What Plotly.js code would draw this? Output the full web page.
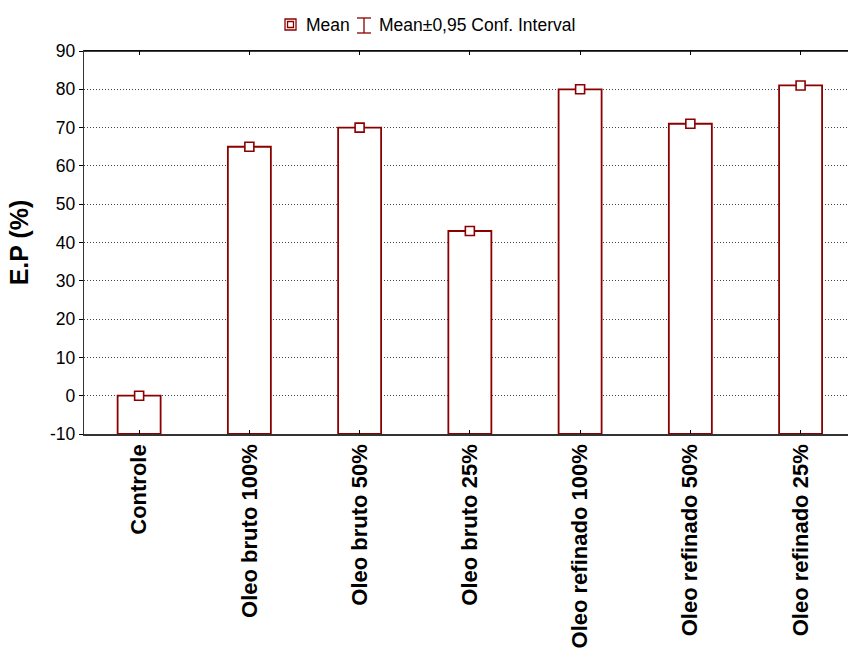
<!DOCTYPE html>
<html>
<head>
<meta charset="utf-8">
<script src="https://cdn.plot.ly/plotly-3.0.1.min.js"></script>
<style>html,body{margin:0;padding:0;background:#fff}#chart{width:848px;height:648px}</style>
</head>
<body>
<div id="chart"></div>
<script>
var categories = ["Controle", "Oleo bruto 100%", "Oleo bruto 50%", "Oleo bruto 25%", "Oleo refinado 100%", "Oleo refinado 50%", "Oleo refinado 25%"];
var means = [0, 65, 70, 43, 80, 71, 81];
var yTickVals = [-10, 0, 10, 20, 30, 40, 50, 60, 70, 80, 90];
var yTickText = ["-10", "0", "10", "20", "30", "40", "50", "60", "70", "80", "90"];
var yTitle = "E.P (%)";
var legendLabels = ["Mean", "Mean\u00b10,95 Conf. Interval"];

var baseVal = -10;
var red = "#8b0000";
var fam = "Liberation Sans, Arial, sans-serif";

var barTrace = {
  type: "bar",
  x: categories,
  y: means.map(function (v) { return v - baseVal; }),
  base: baseVal,
  width: 0.39,
  marker: { color: "#ffffff", line: { color: red, width: 1.8 } },
  hoverinfo: "skip",
  showlegend: false
};
var meanTrace = {
  type: "scatter",
  mode: "markers",
  x: categories,
  y: means,
  marker: { symbol: "square", size: 9, color: "#ffffff", line: { color: red, width: 1.6 } },
  showlegend: false
};

var layout = {
  width: 848, height: 648,
  margin: { l: 84, r: 0, t: 51, b: 214 },
  paper_bgcolor: "#fff", plot_bgcolor: "#fff",
  font: { family: fam, color: "#000", size: 17.5 },
  xaxis: {
    type: "category",
    range: [-0.5, 6.43],
    tickangle: -90,
    tickfont: { family: fam, size: 22, color: "#000", weight: "bold" },
    showline: true, linecolor: "#333", linewidth: 1.5,
    mirror: "ticks",
    ticks: "inside", ticklen: 4, tickcolor: "#000",
    showgrid: false, zeroline: false,
    automargin: false
  },
  yaxis: {
    range: [-10, 90],
    tickvals: yTickVals,
    ticktext: yTickText,
    ticks: "outside", ticklen: 4, tickcolor: "#000",
    showline: true, linecolor: "#333", linewidth: 1.2,
    mirror: false,
    showgrid: true, gridcolor: "#444", griddash: "1px,2px", gridwidth: 1,
    zeroline: false,
    tickfont: { size: 17.5 },
    title: { text: yTitle, font: { size: 25, weight: "bold" }, standoff: 14 },
    automargin: false
  },
  shapes: [
    { type: "line", xref: "paper", yref: "paper", x0: 0, x1: 1, y0: 1, y1: 1, line: { color: "#000", width: 1.5 } },
    { type: "rect", xref: "paper", yref: "paper", x0: 0.2631, x1: 0.2775, y0: 1.0548, y1: 1.0836, line: { color: red, width: 1.3 }, fillcolor: "#fff" },
    { type: "rect", xref: "paper", yref: "paper", x0: 0.2664, x1: 0.2742, y0: 1.0614, y1: 1.0770, line: { color: red, width: 1.3 }, fillcolor: "#fff" },
    { type: "line", xref: "paper", yref: "paper", x0: 0.3665, x1: 0.3665, y0: 1.0470, y1: 1.0862, line: { color: red, width: 1.3 } },
    { type: "line", xref: "paper", yref: "paper", x0: 0.3573, x1: 0.3757, y0: 1.0862, y1: 1.0862, line: { color: red, width: 1.3 } },
    { type: "line", xref: "paper", yref: "paper", x0: 0.3573, x1: 0.3757, y0: 1.0470, y1: 1.0470, line: { color: red, width: 1.3 } }
  ],
  annotations: [
    { xref: "paper", yref: "paper", x: 0.2919, y: 1.0679, xanchor: "left", yanchor: "middle", xshift: -3, text: legendLabels[0], showarrow: false, font: { size: 17.5 } },
    { xref: "paper", yref: "paper", x: 0.3874, y: 1.0679, xanchor: "left", yanchor: "middle", xshift: -3, text: legendLabels[1], showarrow: false, font: { size: 17.5 } }
  ]
};

Plotly.newPlot("chart", [barTrace, meanTrace], layout, { displayModeBar: false, staticPlot: true });
</script>
</body>
</html>
